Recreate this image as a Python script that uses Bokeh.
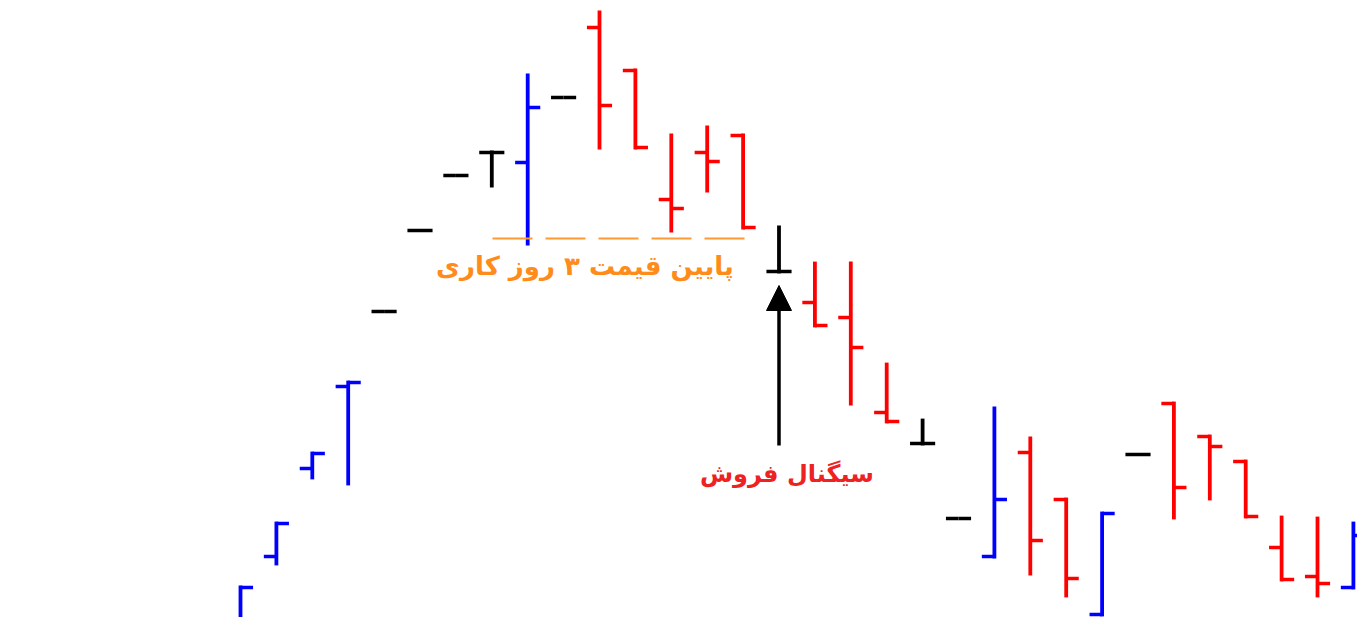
from bokeh.plotting import figure
from bokeh.models import Range1d, ColumnDataSource, Arrow, NormalHead
from bokeh.core.properties import value
from bokeh.embed import file_html
from bokeh.resources import INLINE

# OHLC data
days = list(range(32))
opens = [-2.0, 13.8, 31.4, 47.8, 62.8, 79.0, 90.0, 94.6, 92.6, 105.6, 119.6, 111.0,
         85.2, 94.6, 98.0, 70.8, 64.6, 61.6, 42.6, 36.4, 21.4, 13.8, 34.6, 25.2,
         2.2, 34.2, 44.4, 37.8, 32.8, 15.6, 9.8, 7.6]
highs = [7.6, 20.4, 34.4, 48.6, 62.8, 79.0, 90.0, 94.6, 110.0, 105.6, 122.6, 111.0,
         98.0, 99.6, 98.0, 79.6, 72.4, 72.4, 52.2, 41.0, 21.4, 43.4, 37.4, 25.2,
         22.4, 34.2, 44.4, 37.8, 32.8, 21.6, 21.4, 20.4]
lows = [-2.0, 12.4, 29.6, 28.4, 62.8, 79.0, 90.0, 88.0, 76.4, 105.6, 95.6, 95.6,
        79.0, 87.0, 79.6, 70.8, 60.0, 44.4, 40.8, 36.4, 21.4, 13.8, 10.4, 6.0,
        2.2, 34.2, 21.6, 25.4, 21.8, 9.2, 6.0, 7.6]
closes = [7.6, 20.4, 34.4, 48.6, 62.8, 79.0, 90.0, 94.6, 103.6, 105.6, 104.0, 95.6,
          83.4, 92.8, 79.6, 70.8, 60.0, 55.6, 40.8, 36.4, 21.4, 25.2, 17.0, 9.4,
          22.4, 34.2, 27.6, 35.8, 21.8, 9.2, 8.4, 18.0]

support_level = 77.4
support_from, support_to = 7.02, 14.07
support_label = "پایین قیمت ۳ روز کاری"
signal_label = "سیگنال فروش"
signal_day = 15
signal_arrow_from, signal_arrow_to = 36.0, 68.0

tick = 0.35
colors = []
for o, c in zip(opens, closes):
    if c > o:
        colors.append("#0000FF")
    elif c < o:
        colors.append("#FF0000")
    else:
        colors.append("#000000")

src = ColumnDataSource(dict(
    x=days, o=opens, h=highs, l=lows, c=closes, color=colors,
    xl=[d - tick for d in days], xr=[d + tick for d in days],
))
keep = [k for k in range(len(days)) if highs[k] > lows[k]]
stem_src = ColumnDataSource(dict(
    x=[days[k] for k in keep], h=[highs[k] for k in keep],
    l=[lows[k] for k in keep], color=[colors[k] for k in keep],
))

p = figure(width=1357, height=617, output_backend="svg", toolbar_location=None,
           x_range=Range1d(-6.685, 31.114), y_range=Range1d(1.6, 125.0),
           x_axis_type=None, y_axis_type=None, min_border=0,
           background_fill_color="white", border_fill_color="white")
p.outline_line_color = None
p.xgrid.visible = False
p.ygrid.visible = False

p.segment(x0="x", y0="l", x1="x", y1="h", source=stem_src, line_color="color",
          line_width=3.8, line_cap="square")
p.segment(x0="xl", y0="o", x1="x", y1="o", source=src, line_color="color",
          line_width=3.5, line_cap="butt")
p.segment(x0="x", y0="c", x1="xr", y1="c", source=src, line_color="color",
          line_width=3.5, line_cap="butt")

p.segment(x0=[support_from], y0=[support_level], x1=[support_to], y1=[support_level],
          line_color="#FF9933", line_width=2, line_dash="40 13")

p.text(x=[(support_from + support_to) / 2 - 0.95], y=[support_level - 5.4],
       text=[support_label], text_color="#FF8C1A", text_font=value("DejaVu Sans"),
       text_font_size="26px", text_font_style="bold", text_align="center",
       text_baseline="middle")

p.text(x=[signal_day + 0.22], y=[30.4], text=[signal_label], text_color="#EE2222",
       text_font=value("DejaVu Sans"), text_font_size="24px", text_font_style="bold",
       text_align="center", text_baseline="middle")

p.add_layout(Arrow(end=NormalHead(size=25, fill_color="black", line_color="black", line_width=1),
                   x_start=signal_day, y_start=signal_arrow_from,
                   x_end=signal_day, y_end=signal_arrow_to,
                   line_color="black", line_width=3.5))

open("out.html", "w").write(file_html(p, INLINE))
